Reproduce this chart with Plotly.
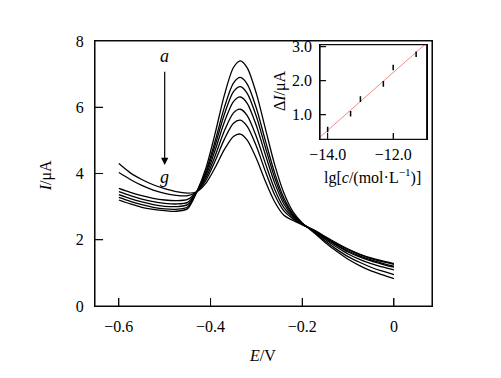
import plotly.graph_objects as go
import numpy as np

# ---- main DPV curves ----
E = [-0.600, -0.575, -0.550, -0.525, -0.500, -0.475, -0.450, -0.430, -0.410, -0.390,
     -0.370, -0.350, -0.335, -0.320, -0.300, -0.280, -0.260, -0.240, -0.220, -0.200,
     -0.175, -0.150, -0.125, -0.100, -0.075, -0.050, -0.025, 0.000]

I_a = [3.20, 3.08, 2.98, 2.92, 2.88, 2.86, 2.94, 3.45, 4.17, 5.21,
       6.36, 7.20, 7.40, 7.19, 6.41, 5.33, 4.26, 3.41, 2.84, 2.51,
       2.22, 1.92, 1.65, 1.41, 1.22, 1.06, 0.94, 0.83]
I_b = [3.28, 3.16, 3.06, 2.98, 2.93, 2.92, 2.99, 3.45, 4.07, 4.98,
       5.99, 6.73, 6.90, 6.70, 5.97, 4.97, 4.01, 3.26, 2.78, 2.50,
       2.24, 1.96, 1.71, 1.49, 1.32, 1.17, 1.05, 0.95]
I_c = [3.36, 3.24, 3.14, 3.06, 3.01, 3.00, 3.06, 3.45, 4.01, 4.85,
       5.78, 6.47, 6.62, 6.42, 5.72, 4.77, 3.87, 3.17, 2.75, 2.49,
       2.26, 2.01, 1.78, 1.57, 1.41, 1.28, 1.18, 1.09]
I_d = [3.45, 3.33, 3.23, 3.15, 3.10, 3.08, 3.13, 3.45, 3.94, 4.70,
       5.55, 6.17, 6.31, 6.12, 5.44, 4.55, 3.71, 3.08, 2.71, 2.48,
       2.27, 2.04, 1.83, 1.63, 1.48, 1.36, 1.26, 1.17]
I_e = [3.55, 3.43, 3.33, 3.25, 3.20, 3.18, 3.22, 3.45, 3.87, 4.53,
       5.28, 5.83, 5.94, 5.75, 5.11, 4.29, 3.52, 2.97, 2.67, 2.47,
       2.28, 2.06, 1.85, 1.66, 1.51, 1.39, 1.29, 1.20]
I_f = [4.03, 3.82, 3.64, 3.50, 3.40, 3.34, 3.33, 3.45, 3.80, 4.38,
       5.03, 5.52, 5.61, 5.42, 4.82, 4.05, 3.35, 2.87, 2.63, 2.46,
       2.29, 2.08, 1.88, 1.70, 1.55, 1.43, 1.34, 1.26]
I_g = [4.30, 4.02, 3.82, 3.66, 3.54, 3.45, 3.41, 3.45, 3.71, 4.18,
       4.72, 5.12, 5.19, 5.01, 4.45, 3.75, 3.14, 2.74, 2.58, 2.45,
       2.30, 2.10, 1.90, 1.72, 1.57, 1.45, 1.36, 1.28]
curves = [I_a, I_b, I_c, I_d, I_e, I_f, I_g]

# tick labels / positions
E_ticks = [-0.6, -0.4, -0.2, 0]
I_ticks = [0, 2, 4, 6, 8]

# ---- inset calibration ----
lg_c = [-14.0, -13.3, -13.0, -12.3, -12.0, -11.3]
dI = [0.57, 1.03, 1.46, 1.91, 2.39, 2.78]
lg_ticks = [-14.0, -12.0]
dI_ticks = [1.0, 2.0, 3.0]

FONT = "Liberation Serif"

fig = go.Figure()
for yv in curves:
    fig.add_trace(go.Scatter(x=E, y=yv, mode="lines",
                             line=dict(color="black", width=1.3, shape="spline", smoothing=0.8),
                             showlegend=False, hoverinfo="skip"))

# inset fit line
slope, icpt = np.polyfit(lg_c, dI, 1)
fx = [-14.4, -10.8]
fy = [slope * v + icpt for v in fx]
fig.add_trace(go.Scatter(x=fx, y=fy, mode="lines", xaxis="x2", yaxis="y2",
                         line=dict(color="#f08a8a", width=1), showlegend=False))
fig.add_trace(go.Scatter(x=lg_c, y=dI, mode="markers", xaxis="x2", yaxis="y2",
                         marker=dict(symbol="line-ns", size=4, line=dict(color="black", width=1.5)),
                         showlegend=False))

axis_common = dict(showline=True, linecolor="black", linewidth=1, mirror=True,
                   layer="above traces",
                   ticks="inside", tickcolor="black", tickwidth=1, showgrid=False, zeroline=False,
                   tickfont=dict(family=FONT, size=16, color="black"))

fig.update_layout(
    width=501, height=378,
    margin=dict(l=87, r=77, t=33, b=80),
    paper_bgcolor="white", plot_bgcolor="white",
    font=dict(family=FONT, size=16, color="black"),
    xaxis=dict(range=[-0.652, 0.083], tickvals=E_ticks,
               ticklen=8, ticklabelstandoff=6, **axis_common),
    yaxis=dict(range=[0, 8], tickvals=I_ticks,
               ticklen=8, ticklabelstandoff=7, **axis_common),
    xaxis2=dict(domain=[0.668, 0.984], anchor="y2", range=[-14.23, -10.98],
                tickvals=lg_ticks, tickformat=".1f",
                ticklen=6, **axis_common),
    yaxis2=dict(domain=[0.629, 0.986], anchor="x2", range=[0.28, 3.06],
                tickvals=dI_ticks, tickformat=".1f",
                ticklen=6, ticklabelstandoff=4, **axis_common),
)

# frames (box outlines) for main plot and inset
frame = dict(color="#111", width=1.1)
fig.add_shape(type="rect", xref="x domain", yref="y domain", x0=0, x1=1, y0=0, y1=1,
              line=frame, layer="above")
fig.add_shape(type="rect", xref="x2 domain", yref="y2 domain", x0=0, x1=1, y0=0, y1=1,
              line=frame, layer="above")

# inside tick marks drawn at the axis tick values
for v in E_ticks:
    fig.add_shape(type="line", xref="x", yref="y domain", x0=v, x1=v, y0=0, y1=0.030,
                  line=frame, layer="above")
for v in I_ticks[1:-1]:
    fig.add_shape(type="line", xref="x domain", yref="y", x0=0, x1=0.024, y0=v, y1=v,
                  line=frame, layer="above")
for v in lg_ticks:
    fig.add_shape(type="line", xref="x2", yref="y2 domain", x0=v, x1=v, y0=0, y1=0.063,
                  line=frame, layer="above")
for v in dI_ticks:
    fig.add_shape(type="line", xref="x2 domain", yref="y2", x0=0, x1=0.056, y0=v, y1=v,
                  line=frame, layer="above")

ann = [
    dict(text="<i>E</i>/V", x=0.496, y=-0.185, xref="paper", yref="paper",
         xanchor="center", yanchor="middle",
         showarrow=False, font=dict(family=FONT, size=16)),
    dict(text="<i>I</i>/μA", x=-0.145, y=0.49, xref="paper", yref="paper",
         xanchor="center", yanchor="middle",
         showarrow=False, textangle=-90, font=dict(family=FONT, size=16)),
    dict(text="Δ<i>I</i>/μA", x=0.549, y=0.811, xref="paper", yref="paper",
         xanchor="center", yanchor="middle",
         showarrow=False, textangle=-90, font=dict(family=FONT, size=16)),
    dict(text="lg[<i>c</i>/(mol·L<sup>−1</sup>)]", x=0.822, y=0.49, xref="paper", yref="paper",
         xanchor="center", yanchor="middle",
         showarrow=False, font=dict(family=FONT, size=16)),
    dict(text="<i>a</i>", x=-0.50, y=7.55, xref="x", yref="y", showarrow=False,
         xanchor="center", yanchor="middle", font=dict(family=FONT, size=18)),
    dict(text="<i>g</i>", x=-0.50, y=3.90, xref="x", yref="y", showarrow=False,
         xanchor="center", yanchor="middle", font=dict(family=FONT, size=18)),
    dict(text="", x=-0.50, y=4.26, ax=-0.50, ay=7.12, xref="x", yref="y",
         axref="x", ayref="y", showarrow=True, arrowhead=2, arrowsize=1.2,
         arrowwidth=1.2, arrowcolor="black"),
]
fig.update_layout(annotations=ann)

fig.write_html("out.html")
